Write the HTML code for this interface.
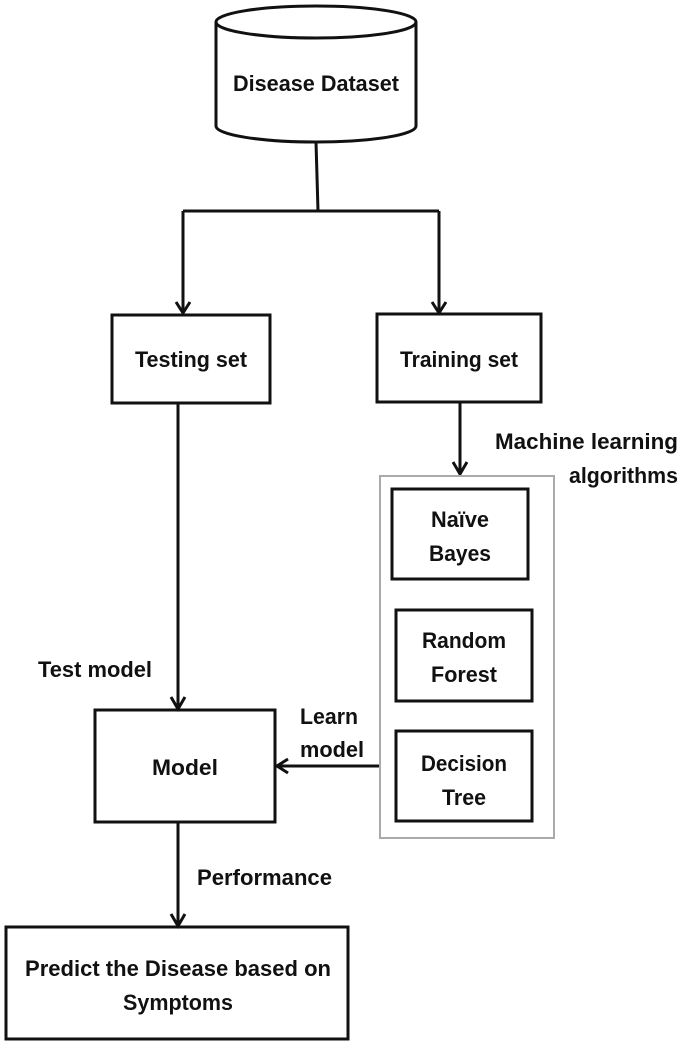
<!DOCTYPE html>
<html><head><style>html,body{margin:0;padding:0;background:#fff}svg{display:block}
text{font-family:"Liberation Sans",sans-serif;font-weight:bold;font-size:22px;fill:#111}</style></head>
<body>
<svg width="685" height="1049" viewBox="0 0 685 1049" xmlns="http://www.w3.org/2000/svg">
<g fill="none" stroke="#111" stroke-width="3">
<path d="M216 22 L216 126 A100 16 0 0 0 416 126 L416 22"/>
<ellipse cx="316" cy="22" rx="100" ry="16" fill="#fff"/>
<path d="M316 142 L318 211 M183 211 L439 211 M183 211 L183 312 M439 211 L439 312"/>
<path d="M176 302 L183 313 L190 302 M432 302 L439 313 L446 302"/>
<rect x="112" y="315" width="158" height="88"/>
<rect x="377" y="314" width="164" height="88"/>
<path d="M460 402 L460 473 M453 462 L460 474 L467 462"/>
<path d="M178 403 L178 708 M171 697 L178 709 L185 697"/>
<rect x="95" y="710" width="180" height="112"/>
<path d="M379 766 L277 766 M288 759 L277 766 L288 773"/>
<path d="M178 822 L178 925 M171 914 L178 926 L185 914"/>
<rect x="6" y="927" width="342" height="112"/>
<rect x="392" y="489" width="136" height="90"/>
<rect x="396" y="610" width="136" height="91"/>
<rect x="396" y="731" width="136" height="90"/>
</g>
<rect x="380" y="476" width="174" height="362" fill="none" stroke="#aaa" stroke-width="2"/>
<g text-anchor="middle">
<text x="316" y="91" textLength="166" lengthAdjust="spacingAndGlyphs">Disease Dataset</text>
<text x="191" y="367" textLength="112" lengthAdjust="spacingAndGlyphs">Testing set</text>
<text x="459" y="367" textLength="118" lengthAdjust="spacingAndGlyphs">Training set</text>
<text x="460" y="527" textLength="58" lengthAdjust="spacingAndGlyphs">Naïve</text>
<text x="460" y="561" textLength="62" lengthAdjust="spacingAndGlyphs">Bayes</text>
<text x="464" y="648" textLength="84" lengthAdjust="spacingAndGlyphs">Random</text>
<text x="464" y="682" textLength="66" lengthAdjust="spacingAndGlyphs">Forest</text>
<text x="464" y="771" textLength="86" lengthAdjust="spacingAndGlyphs">Decision</text>
<text x="464" y="805" textLength="44" lengthAdjust="spacingAndGlyphs">Tree</text>
<text x="185" y="775" textLength="66" lengthAdjust="spacingAndGlyphs">Model</text>
<text x="178" y="976" textLength="306" lengthAdjust="spacingAndGlyphs">Predict the Disease based on</text>
<text x="178" y="1010" textLength="110" lengthAdjust="spacingAndGlyphs">Symptoms</text>
</g>
<g text-anchor="end">
<text x="678" y="449" textLength="183" lengthAdjust="spacingAndGlyphs">Machine learning</text>
<text x="678" y="483" textLength="109" lengthAdjust="spacingAndGlyphs">algorithms</text>
</g>
<text x="38" y="677" textLength="114" lengthAdjust="spacingAndGlyphs">Test model</text>
<text x="300" y="724" textLength="58" lengthAdjust="spacingAndGlyphs">Learn</text>
<text x="300" y="757" textLength="64" lengthAdjust="spacingAndGlyphs">model</text>
<text x="197" y="885" textLength="135" lengthAdjust="spacingAndGlyphs">Performance</text>
</svg>
</body></html>
